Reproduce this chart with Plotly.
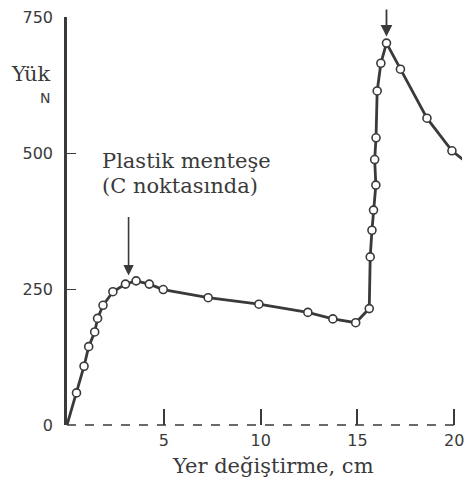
import plotly.graph_objects as go

# displacement (cm) and load (N)
x_cm = [0, 0.49, 0.88, 1.12, 1.43, 1.58, 1.86, 2.37, 3.02, 3.57, 4.25, 4.97, 7.29,
        9.91, 12.44, 13.73, 14.91, 15.61, 15.66, 15.75, 15.83, 15.95, 15.89, 15.96,
        16.02, 16.21, 16.5, 17.22, 18.59, 19.88, 21.1]
load_n = [0, 59, 108, 144, 171, 196, 220, 245, 259, 265, 259, 249, 234,
          222, 207, 195, 188, 214, 309, 358, 395, 441, 488, 528,
          614, 665, 702, 654, 564, 504, 470]
marked = [False] + [True] * 29 + [False]

x_ticks = [5, 10, 15, 20]
y_ticks = [0, 250, 500, 750]

ink = "#3a3a3a"
serif = "DejaVu Serif, serif"
sans = "DejaVu Sans, sans-serif"

fig = go.Figure()
fig.add_trace(go.Scatter(
    x=x_cm, y=load_n, mode="lines",
    line=dict(color=ink, width=2.8), hoverinfo="skip", showlegend=False))
fig.add_trace(go.Scatter(
    x=[v for v, m in zip(x_cm, marked) if m],
    y=[v for v, m in zip(load_n, marked) if m],
    mode="markers",
    marker=dict(symbol="circle", size=8, color="white",
                line=dict(color=ink, width=1.6)),
    hoverinfo="skip", showlegend=False, cliponaxis=False))

fig.update_layout(
    width=456, height=472,
    margin=dict(l=59, r=0, t=9, b=55),
    paper_bgcolor="white", plot_bgcolor="white",
    showlegend=False,
    xaxis=dict(range=[0, 20.4], tickvals=x_ticks, ticks="inside", ticklen=16,
               tickwidth=1.6, tickcolor=ink, showgrid=False, zeroline=False,
               showline=False, ticklabelstandoff=4, ticklabeloverflow="allow",
               tickfont=dict(family=sans, size=16, color=ink)),
    yaxis=dict(range=[0, 750], tickvals=y_ticks, ticks="inside", ticklen=9,
               tickwidth=1.4, tickcolor=ink, showgrid=False, zeroline=False,
               showline=True, linecolor=ink, linewidth=2.6,
               ticklabelstandoff=8, ticklabeloverflow="allow",
               tickfont=dict(family=sans, size=16, color=ink)),
    shapes=[dict(type="line", xref="x", yref="paper", x0=0, x1=20.4, y0=0, y1=0,
                 line=dict(color=ink, width=1.5, dash="dash"))],
    annotations=[
        dict(x=0.522, xref="paper", y=-0.100, yref="paper", yanchor="middle",
             text="Yer değiştirme, cm", showarrow=False,
             font=dict(family=serif, size=21, color=ink)),
        dict(xref="paper", yref="paper", x=-0.0353, xanchor="right",
             y=0.860, yanchor="middle",
             text="Yük", showarrow=False,
             font=dict(family=serif, size=21, color=ink)),
        dict(xref="paper", yref="paper", x=-0.038, xanchor="right",
             y=0.801, yanchor="middle",
             text="N", showarrow=False,
             font=dict(family=sans, size=14, color=ink)),
        dict(x=1.69, xref="x", y=486, yref="y", xanchor="left", yanchor="middle",
             text="Plastik menteşe", showarrow=False,
             font=dict(family=serif, size=21, color=ink)),
        dict(x=1.69, xref="x", y=439, yref="y", xanchor="left", yanchor="middle",
             text="(C noktasında)", showarrow=False,
             font=dict(family=serif, size=21, color=ink)),
        dict(x=3.18, y=275, xref="x", yref="y", ax=0, ay=-60, text="",
             showarrow=True, arrowhead=2, arrowsize=1.3, arrowwidth=1.6,
             arrowcolor=ink),
        dict(x=16.5, y=714, xref="x", yref="y", ax=0, ay=-34, text="",
             showarrow=True, arrowhead=2, arrowsize=1.3, arrowwidth=1.8,
             arrowcolor=ink),
    ],
)

fig.write_html("out.html")
